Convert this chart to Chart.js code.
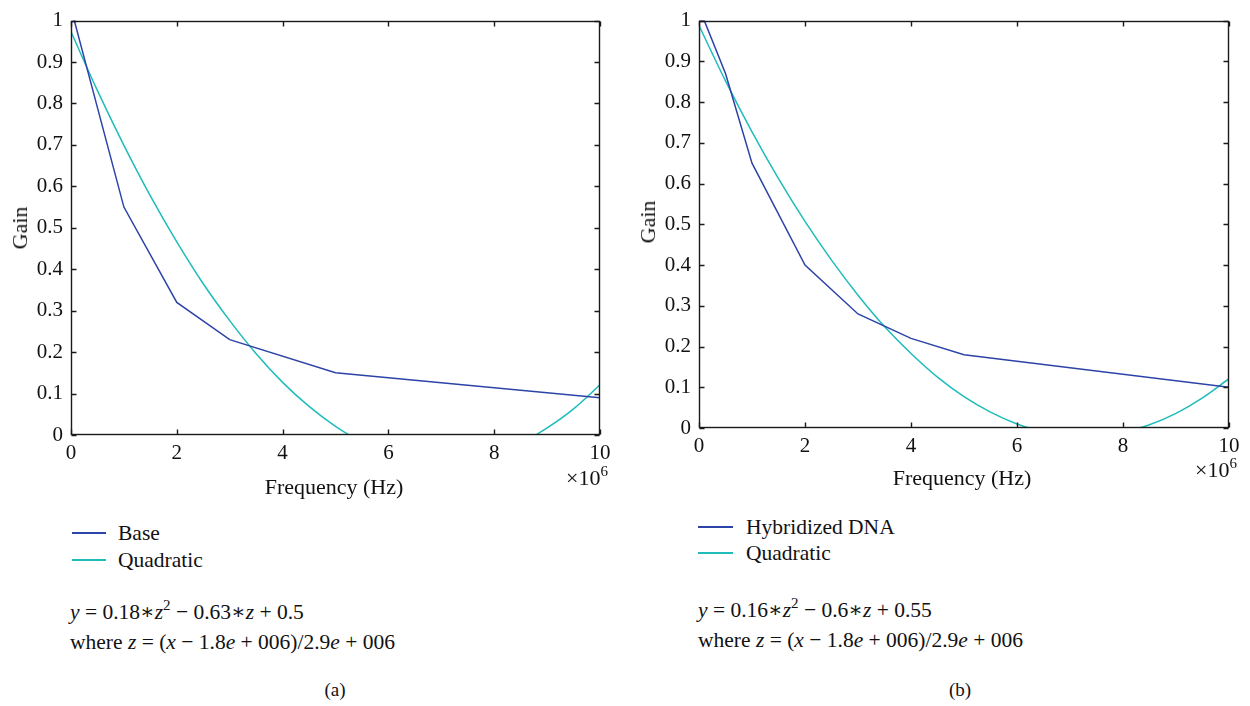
<!DOCTYPE html>
<html>
<head>
<meta charset="utf-8">
<title>Gain vs frequency</title>
<script src="https://cdn.jsdelivr.net/npm/chart.js@4.4.0/dist/chart.umd.min.js"></script>
<style>
  html, body { margin: 0; padding: 0; background: #fff; }
  #page { position: relative; width: 1250px; height: 706px; overflow: hidden;
          font-family: "Liberation Serif", "DejaVu Serif", serif; color: #111; }
  canvas { position: absolute; top: 0; }
  .txt { position: absolute; font-size: 21.5px; line-height: 26px; white-space: nowrap;
         transform: translateY(-50%); }
  .center { transform: translate(-50%, -50%); }
  .rot { transform: translate(-50%, -50%) rotate(-90deg); }
  .key { position: absolute; height: 1.5px; margin-top: -1px; }
  sup { font-size: 15px; line-height: 0; vertical-align: 9px; }
</style>
</head>
<body>
<div id="page">
  <canvas id="chartA" width="625" height="500" style="left:0"></canvas>
  <canvas id="chartB" width="625" height="500" style="left:625px"></canvas>

  <div class="txt rot" style="left:20px; top:228px; font-size:22px">Gain</div>
  <div class="txt center" style="left:334px; top:487px; font-size:22px">Frequency (Hz)</div>
  <div class="txt" style="left:566px; top:478px; font-size:22px">×10<sup>6</sup></div>

  <div class="txt rot" style="left:648px; top:222px; font-size:22px">Gain</div>
  <div class="txt center" style="left:962px; top:478px; font-size:22px">Frequency (Hz)</div>
  <div class="txt" style="left:1195px; top:470px; font-size:22px">×10<sup>6</sup></div>

  <div class="key" style="left:72px; width:34px; top:533px; background:#2c44a8"></div>
  <div class="txt" style="left:118px; top:533px">Base</div>
  <div class="key" style="left:72px; width:34px; top:560px; background:#1fbcbc"></div>
  <div class="txt" style="left:118px; top:560px">Quadratic</div>

  <div class="key" style="left:698px; width:35px; top:527px; background:#2c44a8"></div>
  <div class="txt" style="left:746px; top:527px">Hybridized DNA</div>
  <div class="key" style="left:698px; width:35px; top:553px; background:#1fbcbc"></div>
  <div class="txt" style="left:746px; top:553px">Quadratic</div>

  <div class="txt" style="left:70px; top:612px"><i>y</i> = 0.18∗<i>z</i><sup>2</sup> − 0.63∗<i>z</i> + 0.5</div>
  <div class="txt" style="left:70px; top:642px">where <i>z</i> = (<i>x</i> − 1.8<i>e</i> + 006)/2.9<i>e</i> + 006</div>
  <div class="txt" style="left:698px; top:610px"><i>y</i> = 0.16∗<i>z</i><sup>2</sup> − 0.6∗<i>z</i> + 0.55</div>
  <div class="txt" style="left:698px; top:640px">where <i>z</i> = (<i>x</i> − 1.8<i>e</i> + 006)/2.9<i>e</i> + 006</div>

  <div class="txt center" style="left:335px; top:690px; font-size:19px">(a)</div>
  <div class="txt center" style="left:960px; top:690px; font-size:19px">(b)</div>
</div>

<script>
// frequencies in units of 1e6 Hz
const baseFreq = [0, 1, 2, 3, 5, 10];
const baseGain = [1.03, 0.55, 0.32, 0.23, 0.15, 0.09];

const dnaFreq = [0, 0.1, 0.5, 1, 2, 3, 4, 5, 10];
const dnaGain = [1.0, 1.0, 0.87, 0.65, 0.40, 0.28, 0.22, 0.18, 0.10];

// quadratic fit curves, every 0.5e6 Hz
const fitFreq = [0, 0.5, 1, 1.5, 2, 2.5, 3, 3.5, 4, 4.5, 5, 5.5, 6, 6.5, 7, 7.5, 8, 8.5, 9, 9.5, 10];
const quadA = [0.973, 0.831, 0.699, 0.577, 0.466, 0.365, 0.276, 0.196, 0.127, 0.069, 0.021,
               -0.017, -0.043, -0.060, -0.066, -0.061, -0.046, -0.020, 0.017, 0.063, 0.121];
const quadB = [0.988, 0.852, 0.727, 0.612, 0.507, 0.412, 0.326, 0.249, 0.183, 0.125, 0.077,
               0.039, 0.010, -0.009, -0.019, -0.020, -0.010, 0.008, 0.036, 0.074, 0.121];

const xTicks = [0, 2, 4, 6, 8, 10];
const yTickStep = 0.1;

const BLUE = '#2c44a8';
const CYAN = '#1fbcbc';
const tickFont = { family: '"Liberation Serif", "DejaVu Serif", serif', size: 21 };

const toPoints = (xs, ys) => xs.map((x, i) => ({ x: x, y: ys[i] }));

// box around the plot with inward ticks on all four sides, like MATLAB
const matlabFrame = {
    id: 'matlabFrame',
    afterDatasetsDraw(chart) {
        const { ctx, chartArea: a } = chart;
        const xs = chart.scales.x;
        const ys = chart.scales.y;
        const L = Math.round(a.left) + 0.5, R = Math.round(a.right) - 0.5;
        const T = Math.round(a.top) + 0.5, B = Math.round(a.bottom) - 0.5;
        ctx.save();
        ctx.strokeStyle = '#1a1a1a';
        ctx.lineWidth = 1.4;
        ctx.strokeRect(L, T, R - L, B - T);
        ctx.beginPath();
        xs.ticks.forEach(t => {
            const px = Math.round(xs.getPixelForValue(t.value)) + 0.5;
            ctx.moveTo(px, B); ctx.lineTo(px, B - 5);
            ctx.moveTo(px, T); ctx.lineTo(px, T + 5);
        });
        ys.ticks.forEach(t => {
            const py = Math.round(ys.getPixelForValue(t.value)) + 0.5;
            ctx.moveTo(L, py); ctx.lineTo(L + 5, py);
            ctx.moveTo(R, py); ctx.lineTo(R - 5, py);
        });
        ctx.stroke();
        ctx.restore();
    }
};

const makeChart = (id, measured, label, fit, box) => {
    const ctx = document.getElementById(id).getContext('2d');
    return new Chart(ctx, {
        type: 'line',
        data: {
            datasets: [
                {
                    label: label,
                    data: measured,
                    borderColor: BLUE,
                    borderWidth: 1.5,
                    pointRadius: 0,
                    tension: 0
                },
                {
                    label: 'Quadratic',
                    data: fit,
                    borderColor: CYAN,
                    borderWidth: 1.5,
                    pointRadius: 0,
                    tension: 0.35
                }
            ]
        },
        options: {
            responsive: false,
            animation: false,
            events: [],
            layout: { padding: { top: box.top, right: box.right, left: 0, bottom: 0 } },
            plugins: { legend: { display: false }, tooltip: { enabled: false } },
            scales: {
                x: {
                    type: 'linear',
                    min: 0,
                    max: 10,
                    afterBuildTicks: s => { s.ticks = xTicks.map(v => ({ value: v })); },
                    ticks: { font: tickFont, color: '#111', padding: 6, maxRotation: 0 },
                    grid: { display: false, drawTicks: false },
                    border: { display: false },
                    afterFit: s => { s.height = box.xHeight; }
                },
                y: {
                    min: 0,
                    max: 1,
                    ticks: {
                        stepSize: yTickStep,
                        font: tickFont,
                        color: '#111',
                        padding: 8,
                        callback: v => String(+v.toFixed(1))
                    },
                    grid: { display: false, drawTicks: false },
                    border: { display: false },
                    afterFit: s => { s.width = box.yWidth; }
                }
            }
        },
        plugins: [matlabFrame]
    });
};

makeChart('chartA', toPoints(baseFreq, baseGain), 'Base', toPoints(fitFreq, quadA),
          { top: 18, right: 25, yWidth: 71, xHeight: 65 });
makeChart('chartB', toPoints(dnaFreq, dnaGain), 'Hybridized DNA', toPoints(fitFreq, quadB),
          { top: 12, right: 21, yWidth: 74, xHeight: 72 });
</script>
</body>
</html>
